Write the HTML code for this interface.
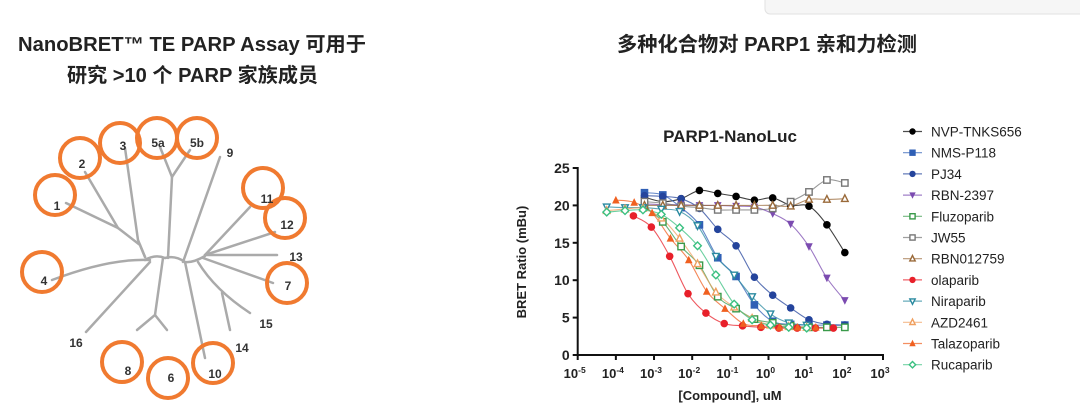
<!DOCTYPE html>
<html><head><meta charset="utf-8"><style>
html,body{margin:0;padding:0;background:#fff;}
svg{display:block;font-family:"Liberation Sans","Noto Sans CJK SC",sans-serif;}
</style></head><body>
<svg id="root" width="1080" height="419" viewBox="0 0 1080 419" xmlns="http://www.w3.org/2000/svg">
<rect x="765" y="-6" width="330" height="20" rx="5" fill="#f6f6f6" stroke="#e2e2e2"/>
<text x="18" y="51" font-size="20" font-weight="bold" fill="#222" textLength="348" lengthAdjust="spacingAndGlyphs">NanoBRET™ TE PARP Assay 可用于</text>
<text x="67" y="82" font-size="20" font-weight="bold" fill="#222" textLength="251" lengthAdjust="spacingAndGlyphs">研究 &gt;10 个 PARP 家族成员</text>
<text x="617" y="51" font-size="20" font-weight="bold" fill="#222" textLength="300" lengthAdjust="spacingAndGlyphs">多种化合物对 PARP1 亲和力检测</text>

<g id="tree" fill="none" stroke="#aaa" stroke-width="2.5" stroke-linecap="round">
<polyline points="66,203 118,228 140,245 145,257"/>
<polyline points="85,172 118,228"/>
<polyline points="125,148 138,240 145,257"/>
<path d="M52,280 Q110,258 150,260"/>
<polyline points="86,332 150,262"/>
<polyline points="160,147 172,177 190,150"/>
<polyline points="172,177 168,258"/>
<polyline points="220,157 183,262"/>
<polyline points="163,258 155,315 137,330"/>
<polyline points="155,315 167,330"/>
<polyline points="205,358 185,262"/>
<polyline points="250,207 205,255"/>
<polyline points="275,232 205,255"/>
<polyline points="277,255 205,255"/>
<polyline points="273,283 203,258"/>
<path d="M250,313 Q215,290 198,262"/>
<polyline points="230,330 222,293"/>
<path d="M145,260 Q155,254 165,258 Q175,255 185,262 Q193,263 205,256"/>
</g>
<g id="circles" fill="none" stroke="#f07a30" stroke-width="4"></g>
<g id="treelabels" font-size="12" font-weight="bold" fill="#333" text-anchor="middle"></g>

<g id="chart"></g>
<g id="legend"></g>
</svg>
<script>
const NS="http://www.w3.org/2000/svg";
function mk(tag,attrs,parent){const e=document.createElementNS(NS,tag);for(const k in attrs)e.setAttribute(k,attrs[k]);parent.appendChild(e);return e;}

const circleCenters=[[55,195],[80,158],[120,143],[157,138],[197,138],[263,188],[285,218],[287,283],[42,272],[122,362],[168,378],[213,363]];
const cg=document.getElementById('circles');
circleCenters.forEach(c=>{const e=mk('circle',{cx:c[0],cy:c[1],r:20},cg);

});
const treeLabels=[["1",57,210],["2",82,168],["3",123,150],["5a",158,147],["5b",197,147],["9",230,157],["11",267,203],["12",287,229],["13",296,261],["7",288,290],["15",266,328],["14",242,352],["10",215,378],["6",171,382],["8",128,375],["16",76,347],["4",44,285]];
const tl=document.getElementById('treelabels');
treeLabels.forEach(l=>{const e=mk('text',{x:l[1],y:l[2]},tl);e.textContent=l[0];

});

const seriesNames=["NVP-TNKS656","NMS-P118","PJ34","RBN-2397","Fluzoparib","JW55","RBN012759","olaparib","Niraparib","AZD2461","Talazoparib","Rucaparib"];
const xGridA=[-3.25,-2.77,-2.29,-1.81,-1.33,-0.85,-0.37,0.11,0.58,1.06,1.53,2.0];
const xGridB=[-4.24,-3.76,-3.29,-2.81,-2.33,-1.86,-1.38,-0.90,-0.43,0.05,0.53,1.0];
const xOla=[-3.54,-3.07,-2.59,-2.11,-1.64,-1.16,-0.68,-0.20,0.27,0.75,1.23,1.70];
const xTala=[-4.0,-3.52,-3.05,-2.57,-2.09,-1.62,-1.14,-0.66,-0.19,0.29,0.76,1.24];
const yNVP=[21.1,20.5,20.9,22.0,21.6,21.2,20.7,21.0,20.0,19.9,17.4,13.7];
const yNMS=[21.7,21.4,19.7,17.4,13.0,10.5,6.7,4.5,4.1,4.0,4.0,4.0];
const yPJ34=[21.3,21.2,20.9,19.6,16.8,14.6,10.4,8.0,6.3,4.7,4.1,4.0];
const yRBN2397=[20.2,20.1,20.1,20.0,20.0,19.9,19.8,18.9,17.5,14.5,10.3,7.3];
const yFluzo=[19.9,17.8,14.5,12.0,7.8,6.2,4.8,4.3,3.9,3.7,3.7,3.7];
const yJW55=[20.5,20.3,19.9,19.7,19.4,19.4,19.4,19.6,20.5,21.8,23.4,23.0];
const yRBN012759=[20.0,20.0,20.0,20.0,20.0,20.0,20.0,20.0,19.9,20.8,20.8,20.9];
const yOla=[18.6,17.1,13.2,8.2,5.6,4.2,3.9,3.7,3.6,3.6,3.6,3.6];
const yNira=[19.8,19.7,19.7,19.5,19.2,17.3,13.2,10.7,7.8,5.5,4.3,4.0];
const yAZD=[19.3,19.5,19.6,18.3,15.6,12.2,8.4,6.4,4.9,4.0,3.8,3.7];
const yTala=[20.7,20.4,19.0,15.6,12.7,8.5,6.2,4.2,3.9,3.7,3.7,3.7];
const yRuca=[19.1,19.3,19.4,18.8,17.0,14.6,10.7,6.8,4.7,4.0,3.7,3.6];
const yTicks=[0,5,10,15,20,25];
const xTickExps=[-5,-4,-3,-2,-1,0,1,2,3];

const seriesX=[xGridA,xGridA,xGridA,xGridA,xGridA,xGridA,xGridA,xOla,xGridB,xGridB,xTala,xGridB];
const seriesY=[yNVP,yNMS,yPJ34,yRBN2397,yFluzo,yJW55,yRBN012759,yOla,yNira,yAZD,yTala,yRuca];
const colors=["#000000","#2f5fb5","#24449c","#7b4bb0","#3a9a4a","#777777","#9a6a3a","#e8202a","#2a8aa0","#f0a060","#f06020","#3ac080"];
const markers=["circle","square","circle","tridown","osquare","osquare","otri","circle","otridown","otri","tri","odiamond"];

const X0=577.7,X1=883,Y0=355,Y1=168;
const xs=v=>X0+(v+5)/8*(X1-X0);
const ys=v=>Y0-v/25*(Y0-Y1);

const ch=document.getElementById('chart');
function smoothPath(pts){let d="M"+pts[0][0]+","+pts[0][1];
for(let i=0;i<pts.length-1;i++){const p0=pts[Math.max(0,i-1)],p1=pts[i],p2=pts[i+1],p3=pts[Math.min(pts.length-1,i+2)];
const c1=[p1[0]+(p2[0]-p0[0])/6,p1[1]+(p2[1]-p0[1])/6],c2=[p2[0]-(p3[0]-p1[0])/6,p2[1]-(p3[1]-p1[1])/6];
d+=" C"+c1[0].toFixed(1)+","+c1[1].toFixed(1)+" "+c2[0].toFixed(1)+","+c2[1].toFixed(1)+" "+p2[0].toFixed(1)+","+p2[1].toFixed(1);}return d;}
function marker(type,x,y,col,parent,s){s=s||3.8;let e;
if(type==="circle")e=mk('circle',{cx:x,cy:y,r:s,fill:col},parent);
else if(type==="square")e=mk('rect',{x:x-s,y:y-s,width:2*s,height:2*s,fill:col},parent);
else if(type==="osquare")e=mk('rect',{x:x-s+0.6,y:y-s+0.6,width:2*s-1.2,height:2*s-1.2,fill:"#fff",stroke:col,"stroke-width":1.4},parent);
else if(type==="tri")e=mk('polygon',{points:`${x},${y-s-0.5} ${x-s},${y+s-0.5} ${x+s},${y+s-0.5}`,fill:col},parent);
else if(type==="otri")e=mk('polygon',{points:`${x},${y-s} ${x-s+0.5},${y+s-1} ${x+s-0.5},${y+s-1}`,fill:"#fff",stroke:col,"stroke-width":1.4},parent);
else if(type==="tridown")e=mk('polygon',{points:`${x},${y+s+0.5} ${x-s},${y-s+0.5} ${x+s},${y-s+0.5}`,fill:col},parent);
else if(type==="otridown")e=mk('polygon',{points:`${x},${y+s} ${x-s+0.5},${y-s+1} ${x+s-0.5},${y-s+1}`,fill:"#fff",stroke:col,"stroke-width":1.4},parent);
else if(type==="odiamond")e=mk('polygon',{points:`${x},${y-s} ${x+s},${y} ${x},${y+s} ${x-s},${y}`,fill:"#fff",stroke:col,"stroke-width":1.4},parent);
return e;}

seriesNames.forEach((n,i)=>{
 const g=mk('g',{},ch);
 
 
 const pts=seriesX[i].map((x,j)=>[xs(x),ys(seriesY[i][j])]);
 const p=mk('path',{d:smoothPath(pts),fill:"none",stroke:colors[i],"stroke-width":1.1,"stroke-opacity":0.75},g);
 
 
});
seriesNames.forEach((n,i)=>{
 const g=mk('g',{},ch);
 
 
 seriesX[i].forEach((x,j)=>{const m=marker(markers[i],xs(x),ys(seriesY[i][j]),colors[i],g);
 
 });
});

const ax=mk('g',{stroke:"#111","stroke-width":2,fill:"none"},ch);


mk('line',{x1:X0,y1:Y0+1,x2:X0,y2:Y1-1},ax);
mk('line',{x1:X0-1,y1:Y0,x2:X1+1,y2:Y0},ax);
yTicks.forEach(t=>{mk('line',{x1:X0-5,y1:ys(t),x2:X0,y2:ys(t)},ax);
 const e=mk('text',{x:X0-8,y:ys(t)+5,"font-size":14,"font-weight":"bold","text-anchor":"end",fill:"#222"},ch);
 e.textContent=t;
 
 });
xTickExps.forEach(t=>{mk('line',{x1:xs(t),y1:Y0,x2:xs(t),y2:Y0+5},ax);
 const e=mk('text',{x:xs(t)-3,y:378,"font-size":13,"font-weight":"bold","text-anchor":"middle",fill:"#222"},ch);
 e.textContent="10";
 const s=mk('tspan',{dy:-5,"font-size":8.5},e);s.textContent=String(t);
 
 });
let t=mk('text',{x:730,y:142,"font-size":17,"font-weight":"bold","text-anchor":"middle",fill:"#222"},ch);
t.textContent="PARP1-NanoLuc";


t=mk('text',{x:730,y:400,"font-size":13,"font-weight":"bold","text-anchor":"middle",fill:"#222"},ch);
t.textContent="[Compound], uM";


t=mk('text',{x:0,y:0,"font-size":13,"font-weight":"bold","text-anchor":"middle",fill:"#222",transform:"translate(526,262) rotate(-90)"},ch);
t.textContent="BRET Ratio (mBu)";



const lg=document.getElementById('legend');
seriesNames.forEach((n,i)=>{const y=131.5+i*21.2;
 const g=mk('g',{},lg);
 
 
 mk('line',{x1:903,y1:y,x2:922,y2:y,stroke:colors[i],"stroke-width":1.2,"stroke-opacity":0.7},g);
 marker(markers[i],912.5,y,colors[i],g,3.2);
 const e=mk('text',{x:931,y:y+5,"font-size":13.5,fill:"#222"},g);e.textContent=n;});
</script>
</body></html>
